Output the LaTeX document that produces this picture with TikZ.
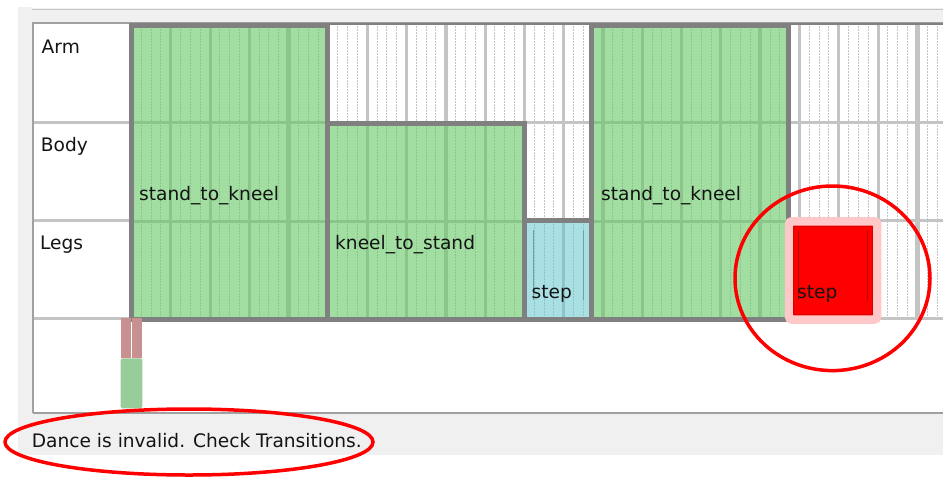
\documentclass[tikz,border=0pt]{standalone}
\usepackage{fontspec}
\setmainfont{DejaVu Sans}
\definecolor{panel}{HTML}{F0F0F0}
\definecolor{lgray}{HTML}{C4C4C4}
\definecolor{framec}{HTML}{A0A0A0}
\definecolor{dgray}{HTML}{808080}
\definecolor{gfill}{HTML}{A2DEA2}
\definecolor{gline}{HTML}{8AC68A}
\definecolor{cfill}{HTML}{A8E0E4}
\definecolor{cline}{HTML}{8CC4C8}
\definecolor{pinkb}{HTML}{FFC8C8}
\definecolor{barred}{HTML}{C89090}
\definecolor{bargreen}{HTML}{98CC98}
\definecolor{txt}{HTML}{141414}
\newcommand\beatgrid[3]{%
  \foreach \k in {0,...,21}{%
    \pgfmathsetmacro\bxx{131.4+39.3*\k}%
    \pgfmathsetmacro\blw{ifthenelse(mod(\k,4)==0,4.5,3)}%
    \draw[#1,line width=\blw pt] (\bxx,#2) -- (\bxx,#3);
    \foreach \j in {1,2,3}{%
      \pgfmathsetmacro\bxd{\bxx+9.825*\j}%
      \draw[#1,line width=1pt,dash pattern=on 1.5pt off 1.5pt] (\bxd,#2) -- (\bxd,#3);
    }%
  }%
}
\tikzset{
  lbl/.style={anchor=base west,inner sep=0pt,text=txt,font=\fontsize{18.6}{22}\selectfont},
  blockbox/.style={anchor=north west,inner sep=0pt,outer sep=0pt,draw=none},
  border/.style={draw=dgray,line width=5pt},
  redring/.style={draw=red,line width=3.5pt}
}
\begin{document}
\begin{tikzpicture}[x=1pt,y=-1pt]
\useasboundingbox (0,0) rectangle (943,483);
\fill[white] (0,0) rectangle (943,483);
% window panel
\fill[panel] (18,7) rectangle (943,455);
\fill[white] (32,7) rectangle (943,8.4);
\draw[lgray,line width=1.5pt] (32,9.5) -- (943,9.5);
% table area
\fill[white] (33,23) rectangle (943,413);
\begin{scope}
  \clip (131,23) rectangle (943,318);
  \beatgrid{lgray}{23}{318}
\end{scope}
\draw[lgray,line width=3pt] (33,122) -- (943,122);
\draw[lgray,line width=3pt] (33,220) -- (943,220);
\draw[lgray,line width=3pt] (33,318) -- (943,318);
\draw[framec,line width=1.5pt] (33,413) -- (33,23) -- (943,23);
\draw[framec,line width=1.5pt] (33,413) -- (943,413);
\draw[dgray,line width=2.5pt] (129,23.8) -- (943,23.8);

% block 1 stand_to_kneel
\node[blockbox,fill=gfill,minimum width=196.5pt,minimum height=294pt] (b1) at (131,25) {};
\begin{scope}
  \clip (b1.north west) rectangle (b1.south east);
  \beatgrid{gline}{23}{320}
  \draw[gline,line width=3pt] (131,122) -- (943,122);
  \draw[gline,line width=3pt] (131,221) -- (943,221);
\end{scope}
% block 2 kneel_to_stand
\node[blockbox,fill=gfill,minimum width=196.5pt,minimum height=195.2pt] (b2) at (327.5,123.8) {};
\begin{scope}
  \clip (b2.north west) rectangle (b2.south east);
  \beatgrid{gline}{23}{320}
  \draw[gline,line width=3pt] (131,221) -- (943,221);
\end{scope}
% block 3 step (cyan)
\node[blockbox,fill=cfill,minimum width=67.5pt,minimum height=98.5pt] (b3) at (524,220.5) {};
\begin{scope}
  \clip (b3.north west) rectangle (b3.south east);
  \beatgrid{cline}{23}{320}
\end{scope}
\draw[black!30!cfill,line width=0.7pt] (533,230) -- (533,300);
\draw[black!30!cfill,line width=0.7pt] (583,230) -- (583,300);
% block 4 stand_to_kneel
\node[blockbox,fill=gfill,minimum width=196.5pt,minimum height=294pt] (b4) at (591.5,25) {};
\begin{scope}
  \clip (b4.north west) rectangle (b4.south east);
  \beatgrid{gline}{23}{320}
  \draw[gline,line width=3pt] (131,122) -- (943,122);
  \draw[gline,line width=3pt] (131,221) -- (943,221);
\end{scope}
% borders
\draw[border] (b1.north west) rectangle (b1.south east);
\draw[border] (b2.north west) rectangle (b2.south east);
\draw[border] (b3.north west) rectangle (b3.south east);
\draw[border] (b4.north west) rectangle (b4.south east);
% red step
\node[blockbox,fill=red,draw=pinkb,line width=8.5pt,rounded corners=3pt,minimum width=88.2pt,minimum height=98.2pt] (b5) at (789,221.3) {};
\draw[red!85!black,line width=0.8pt] (793.6,226.2) rectangle (872.6,314.8);
\draw[red!70!black,line width=0.8pt] (798.3,230.7) -- (798.3,300);
\draw[red!70!black,line width=0.8pt] (867.3,230.7) -- (867.3,300);

% small bars
\node[blockbox,fill=barred,minimum width=10pt,minimum height=40pt] (bar1) at (120.7,318.3) {};
\node[blockbox,fill=barred,minimum width=10pt,minimum height=40pt] (bar2) at (132.3,318.3) {};
\node[blockbox,fill=bargreen,minimum width=21.6pt,minimum height=50pt,rounded corners=1.5pt] (bar3) at (120.7,358.3) {};

% labels
\node[lbl] (tarm) at (41.5,53) {Arm};
\node[lbl] (tbody) at (40.7,151.7) {Body};
\node[lbl] (tlegs) at (40,249) {Legs};
\node[lbl] (t1) at (139,200) {stand\_to\_kneel};
\node[lbl] (t2) at (335,249) {kneel\_to\_stand};
\node[lbl] (t3) at (531.5,298) {step};
\node[lbl] (t4) at (601,200) {stand\_to\_kneel};
\node[lbl] (t5) at (797,298) {step};
\node[lbl] (msg) at (31.7,447.5) {Dance is invalid. Check Transitions.};

% annotation ellipses
\draw[redring] (832.5,278.3) ellipse [x radius=97.5, y radius=92.3];
\draw[redring] (189,442) ellipse [x radius=184, y radius=33];
\end{tikzpicture}
\end{document}
